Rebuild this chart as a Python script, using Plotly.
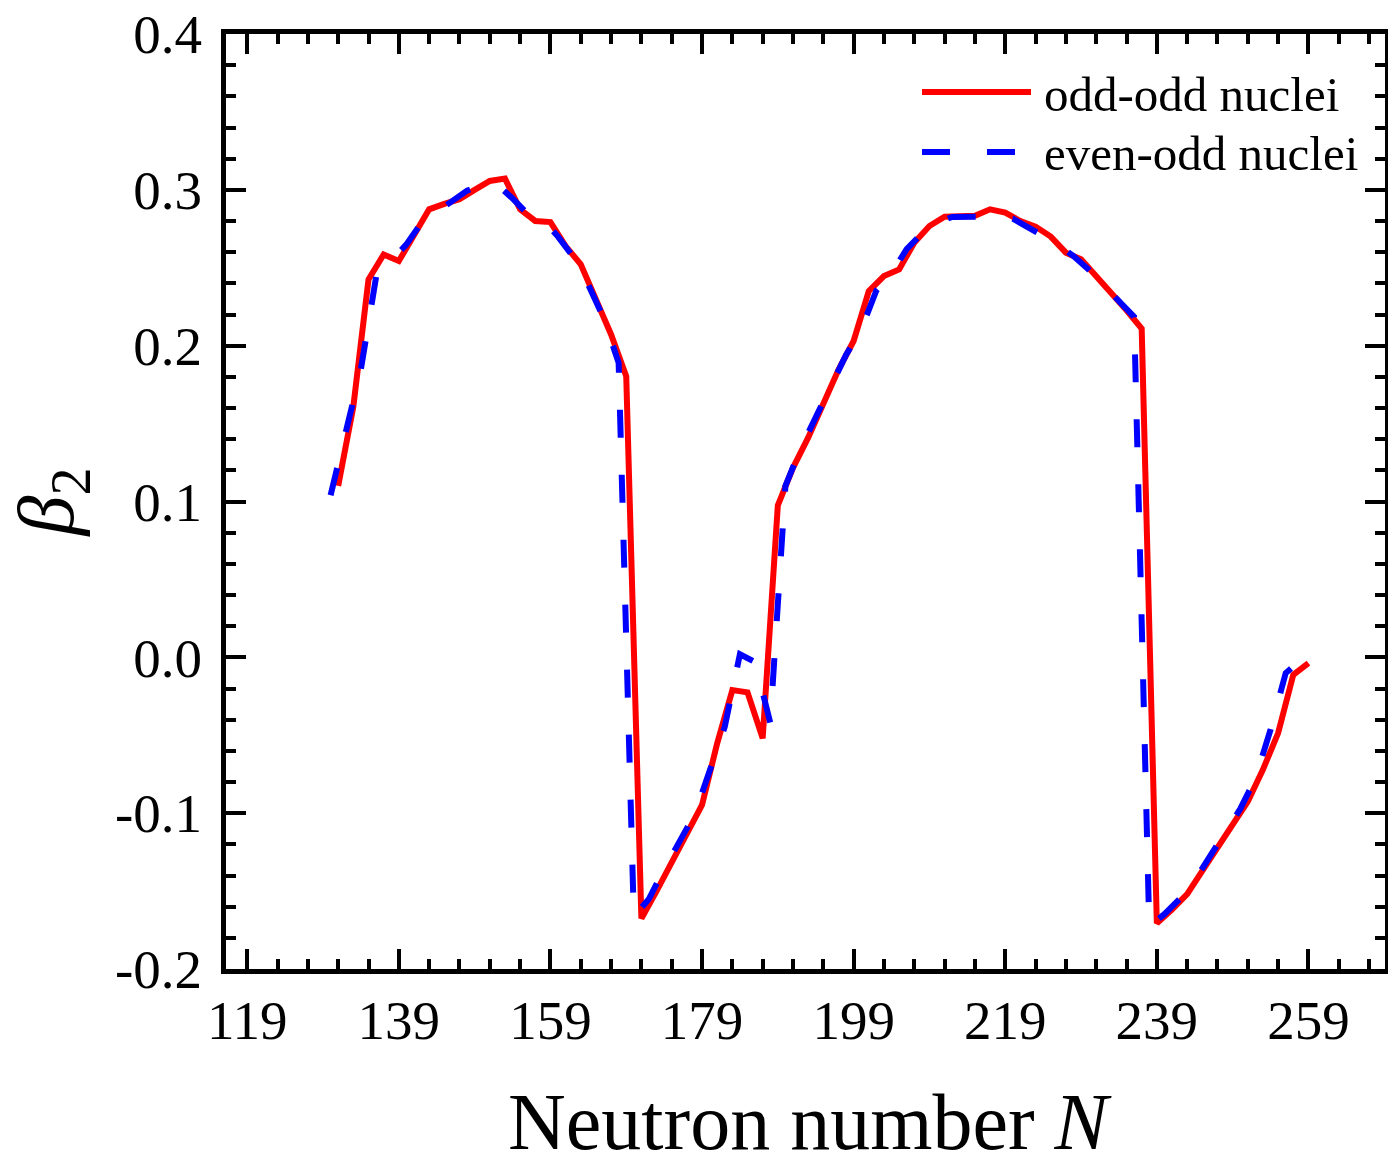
import plotly.graph_objects as go

# ---------------- data ----------------
N_odd_odd = [131, 133, 135, 137, 139, 141, 143, 145, 147, 149, 151, 153, 155, 157,
             159, 161, 163, 165, 167, 169, 171, 173, 175, 177, 179, 181, 183, 185,
             187, 189, 191, 193, 195, 197, 199, 201, 203, 205, 207, 209, 211, 213,
             215, 217, 219, 221, 223, 225, 227, 229, 231, 233, 235, 237, 239, 241,
             243, 245, 247, 249, 251, 253, 255, 257, 259]
beta_odd_odd = [0.110, 0.161, 0.2425, 0.2585, 0.2543, 0.270, 0.2875, 0.291, 0.294, 0.300,
                0.3057, 0.3072, 0.2875, 0.280, 0.2793, 0.2639, 0.2522, 0.2297, 0.2072, 0.1804,
                -0.1676, -0.150, -0.131, -0.1132, -0.0947, -0.0552, -0.0210, -0.0225, -0.0520,
                0.0975, 0.1216, 0.1410, 0.1635, 0.1845, 0.2030, 0.2350, 0.2447, 0.2489, 0.2661,
                0.2768, 0.2828, 0.2832, 0.2834, 0.2875, 0.2854, 0.2800, 0.2764, 0.2700, 0.2597,
                0.2554, 0.2448, 0.2338, 0.2227, 0.2109, -0.1706, -0.1618, -0.1520, -0.1370,
                -0.1220, -0.1070, -0.0925, -0.0720, -0.0486, -0.0112, -0.0037]

N_even_odd = [130, 132, 134, 136, 138, 140, 142, 144, 146, 148, 150, 152, 154, 156,
              158, 160, 162, 164, 166, 168, 170, 172, 174, 176, 178, 180, 182, 184,
              186, 188, 190, 192, 194, 196, 198, 200, 202, 204, 206, 208, 210, 212,
              214, 216, 218, 220, 222, 224, 226, 228, 230, 232, 234, 236, 238, 240,
              242, 244, 246, 248, 250, 252, 254, 256, 259]
beta_even_odd = [0.104, 0.143, 0.185, 0.2440, 0.2545, 0.2650, 0.2790, 0.2860, 0.2927, 0.2995,
                 0.3030, 0.3032, 0.2945, 0.2845, 0.2810, 0.2700, 0.2570, 0.2390, 0.2180, 0.1890,
                 -0.1665, -0.1550, -0.1360, -0.1183, -0.1010, -0.0730, -0.0445, 0.0020,
                 -0.0030, -0.0420, 0.1100, 0.1340, 0.1536, 0.1730, 0.1940, 0.2105, 0.2354,
                 0.2463, 0.2620, 0.2720, 0.2790, 0.2826, 0.2828, 0.2828, 0.2828, 0.2815,
                 0.2763, 0.2705, 0.2646, 0.2575, 0.2488, 0.2383, 0.2278, 0.2185, -0.1728,
                 -0.1648, -0.1551, -0.1431, -0.1277, -0.1125, -0.0973, -0.0778, -0.0464,
                 -0.0101, 0.0024]

x_tick_vals = [119, 139, 159, 179, 199, 219, 239, 259]
y_tick_vals = [-0.2, -0.1, 0.0, 0.1, 0.2, 0.3, 0.4]
y_tick_text = ["-0.2", "-0.1", "0.0", "0.1", "0.2", "0.3", "0.4"]

series_names = ["odd-odd nuclei", "even-odd nuclei"]
x_title = "Neutron number <i>N</i>"
y_title = "<i>β</i><sub>2</sub>"

# ---------------- figure ----------------
W, H = 1388, 1155
ML, MR, MT, MB = 226, 3, 34, 186
PW, PH = W - ML - MR, H - MT - MB

FONT = "Liberation Serif"

fig = go.Figure()
fig.add_trace(go.Scatter(x=N_odd_odd, y=beta_odd_odd, mode="lines", name=series_names[0],
                         line=dict(color="#ff0000", width=6)))
fig.add_trace(go.Scatter(x=N_even_odd, y=beta_even_odd, mode="lines", name=series_names[1],
                         line=dict(color="#0000ff", width=6, dash="28px,37px")))


def px_to_paper_x(px):
    return (px - ML) / PW


def px_to_paper_y(py):
    return (H - MB - py) / PH


# custom legend (long line samples as in the reference)
legend_rows = [(92, "#ff0000", "solid"), (152, "#0000ff", "28px,37px")]
for (row_y, col, dsh), name in zip(legend_rows, series_names):
    fig.add_shape(type="line", xref="paper", yref="paper",
                  x0=px_to_paper_x(922), x1=px_to_paper_x(1031),
                  y0=px_to_paper_y(row_y), y1=px_to_paper_y(row_y),
                  line=dict(color=col, width=6, dash=dsh))
    fig.add_annotation(xref="paper", yref="paper", x=px_to_paper_x(1042),
                       y=px_to_paper_y(row_y + 2), xanchor="left", yanchor="middle",
                       text=name, showarrow=False,
                       font=dict(family=FONT, size=49, color="black"))

# x-axis title placed as in the reference
fig.add_annotation(xref="paper", yref="paper", x=px_to_paper_x(810),
                   y=px_to_paper_y(1122), xanchor="center", yanchor="middle",
                   text=x_title, showarrow=False,
                   font=dict(family=FONT, size=80, color="black"))

axis_common = dict(
    ticks="inside", ticklen=20, tickwidth=4, tickcolor="black",
    showline=True, linewidth=5, linecolor="black", mirror="ticks",
    showgrid=False, zeroline=False, automargin=False,
    tickfont=dict(family=FONT, size=55, color="black"),
)

fig.update_xaxes(
    range=[116.2, 269.1], tickmode="array", tickvals=x_tick_vals,
    minor=dict(tickmode="linear", tick0=119, dtick=4, ticks="inside", ticklen=10,
               tickwidth=4, tickcolor="black", showgrid=False),
    ticklabelstandoff=-1,
    **axis_common,
)
fig.update_yaxes(
    range=[-0.2, 0.4], tickmode="array", tickvals=y_tick_vals, ticktext=y_tick_text,
    minor=dict(tickmode="linear", tick0=-0.2, dtick=0.02, ticks="inside", ticklen=10,
               tickwidth=4, tickcolor="black", showgrid=False),
    title=dict(text=y_title, font=dict(family=FONT, size=80, color="black"),
               standoff=16),
    ticklabelstandoff=8,
    **axis_common,
)

fig.update_layout(
    width=W, height=H, margin=dict(l=ML, r=MR, t=MT, b=MB),
    plot_bgcolor="white", paper_bgcolor="white", showlegend=False,
    font=dict(family=FONT, color="black"),
)

fig.write_html("out.html", config={"displayModeBar": False},
               post_script="document.body.style.margin='0px';")
